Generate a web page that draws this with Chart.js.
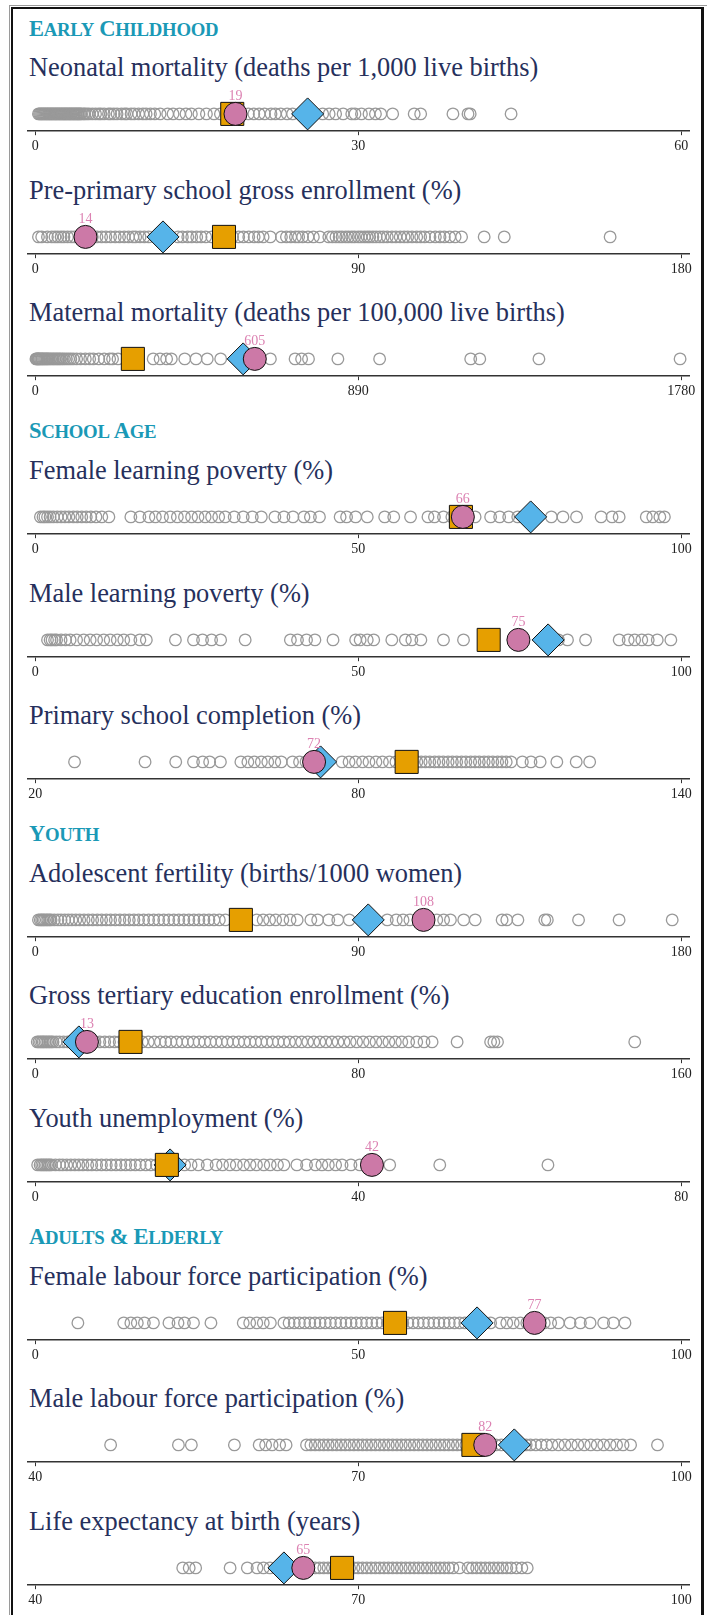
<!DOCTYPE html>
<html>
<head>
<meta charset="utf-8">
<script src="https://cdn.jsdelivr.net/npm/chart.js@4.4.1/dist/chart.umd.min.js"></script>
<style>
  body { margin: 0; background: #fff; width: 707px; height: 1615px; overflow: hidden; position: relative; font-family: "Liberation Serif", serif; }
  .outer { position: absolute; left: 9px; top: 5px; width: 700px; height: 1700px; border-top: 1px solid #9a9a9a; border-left: 1px solid #9a9a9a; }
  .frame { position: absolute; left: 11px; top: 7px; width: 693px; height: 1700px; border: 2.5px solid #111; border-right-width: 3px; box-sizing: border-box; }
  .section { position: absolute; left: 29px; font-weight: bold; font-size: 22.5px; line-height: 26px; color: #1a99b6; letter-spacing: -0.3px; white-space: nowrap; }
  .section .sm { font-size: 18.8px; }
  .title { position: absolute; left: 29px; font-size: 26.4px; line-height: 30px; color: #26305c; white-space: nowrap; }
  .plot { position: absolute; left: 0; }
</style>
</head>
<body>
<div class="outer"></div>
<div class="frame"></div>
<div id="charts"></div>
<script>
const sections = ['Early Childhood', 'School Age', 'Youth', 'Adults & Elderly'];
const titles = [
  'Neonatal mortality (deaths per 1,000 live births)',
  'Pre-primary school gross enrollment (%)',
  'Maternal mortality (deaths per 100,000 live births)',
  'Female learning poverty (%)',
  'Male learning poverty (%)',
  'Primary school completion (%)',
  'Adolescent fertility (births/1000 women)',
  'Gross tertiary education enrollment (%)',
  'Youth unemployment (%)',
  'Female labour force participation (%)',
  'Male labour force participation (%)',
  'Life expectancy at birth (years)'
];
const sectionOf = [0, 0, 0, 1, 1, 1, 2, 2, 2, 3, 3, 3];
const tickValues = [
  [0, 30, 60], [0, 90, 180], [0, 890, 1780], [0, 50, 100], [0, 50, 100], [20, 80, 140],
  [0, 90, 180], [0, 80, 160], [0, 40, 80], [0, 50, 100], [40, 70, 100], [40, 70, 100]
];

// highlighted country (pink), regional average (orange), income group (blue)
const countryValues = [18.6, 14.0, 605, 66.2, 74.8, 71.8, 108.2, 12.8, 41.7, 77.3, 81.8, 64.9];
const regionValues  = [18.3, 52.6, 269, 65.9, 70.2, 89.0, 57.3, 23.6, 16.3, 55.7, 80.7, 68.5];
const incomeValues  = [25.3, 35.6, 573, 76.7, 79.4, 73.0, 92.8, 10.8, 16.7, 68.4, 84.5, 63.1];

// other countries (grey rings)
const grayNeonatal = [0.3,0.4,0.5,0.6,0.7,0.8,0.9,1.0,1.1,1.2,1.3,1.4,1.5,1.6,1.7,1.8,1.9,2.0,2.1,2.2,2.3,2.4,2.5,2.6,2.7,2.8,2.9,3.0,3.1,3.2,3.3,3.4,3.5,3.6,3.7,3.8,3.9,4.0,4.1,4.2,4.3,4.5,4.6,4.8,5.0,5.3,5.6,5.9,6.1,6.4,6.8,7.0,7.3,7.6,8.0,8.3,8.5,8.9,9.2,9.6,10.0,10.3,10.7,11.1,11.6,12.3,12.8,13.4,14.0,14.5,15.2,15.9,16.6,17.2,19.8,20.3,20.8,21.3,21.9,22.3,22.8,23.4,23.9,26.7,27.3,27.9,28.6,29.4,29.7,30.3,31.0,31.6,32.1,33.2,35.2,35.8,38.8,40.2,40.4,44.2];
const grayPrePrimary = [0.9,1.8,3.4,4.6,5.5,6.3,7.2,8.0,9.0,10.0,10.9,13.5,15.9,17.2,18.5,19.7,21.0,22.3,23.5,24.8,26.0,27.2,28.0,29.2,30.4,31.6,34.0,37.5,39.8,41.0,42.5,43.6,45.0,46.2,47.5,49.2,51.0,55.0,56.7,58.0,59.5,61.0,62.2,63.5,65.5,68.6,70.0,71.2,72.5,73.4,74.5,76.0,77.5,79.3,81.8,82.8,83.8,84.7,85.5,86.5,87.3,88.2,89.0,90.0,90.8,91.7,92.5,93.2,94.1,95.0,96.0,97.0,98.1,99.4,100.5,101.7,102.8,103.8,105.0,106.3,107.4,108.5,110.0,111.5,112.8,114.0,115.5,117.0,118.8,125.1,130.7,160.2];
const grayMaternal = [2,4,6,8,10,12,15,18,20,23,26,29,32,35,38,42,46,50,54,58,62,66,70,75,80,86,92,98,105,114,125,138,150,160,175,190,205,213,228,255,280,325,344,362,375,412,443,474,511,648,716,734,753,834,949,1200,1225,1388,1777];
const grayFemaleLP = [0.8,1.2,1.5,1.9,2.3,2.8,3.4,4.0,4.6,5.2,5.9,6.5,7.2,7.9,8.6,9.4,10.3,11.4,14.8,16.2,17.6,18.6,19.7,20.9,22.0,23.1,24.2,25.2,26.3,27.3,28.4,29.4,30.8,32.2,33.6,35.0,37.1,38.5,39.9,41.6,42.6,44.0,47.2,48.2,49.6,51.4,54.1,55.5,58.1,60.8,61.8,63.2,64.5,68.1,70.5,71.9,73.3,74.7,79.9,81.7,83.8,87.6,89.3,90.4,94.6,95.6,96.7,97.4];
const grayMaleLP = [1.9,2.3,2.6,3.0,3.3,4.0,4.7,5.4,6.4,7.5,8.5,9.5,10.6,11.6,12.7,13.7,14.8,16.2,17.2,21.7,24.5,25.9,27.3,28.7,32.5,39.5,40.6,42.0,43.3,46.1,49.6,50.3,51.4,52.4,55.2,57.3,58.3,59.7,63.2,66.3,81.0,82.4,85.2,90.4,91.8,92.8,93.9,94.9,96.3,98.4];
const grayPrimary = [27.3,40.4,46.1,49.4,51.1,52.4,54.4,58.2,59.5,60.7,62.0,63.2,64.5,65.7,67.8,69.1,70.3,77.0,78.3,79.5,80.8,82.0,83.3,84.5,85.8,87.0,88.5,90.0,90.9,91.7,92.5,93.3,94.2,95.0,95.8,96.7,97.5,98.3,99.2,100.0,100.9,101.7,102.5,103.4,104.2,105.0,105.9,106.7,107.5,108.4,110.5,112.1,113.8,116.9,120.5,123.0];
const grayAdolescent = [0.9,1.4,1.8,2.2,2.6,3.1,3.5,4.0,4.4,5.3,6.3,7.2,8.2,9.2,10.2,11.3,12.4,13.6,14.8,16.0,17.3,18.5,19.8,21.0,22.3,23.6,24.9,26.2,27.5,28.8,30.2,31.6,33.0,34.4,35.8,37.2,38.6,40.0,41.4,42.8,44.2,45.6,47.0,48.4,49.8,51.3,53.0,61.7,63.5,65.3,67.0,69.0,71.0,73.0,76.8,78.7,81.8,84.3,87.5,98.1,100.6,102.5,104.4,111.9,113.8,115.7,119.4,122.6,130.1,131.4,134.5,142.0,142.7,151.4,162.7,177.5];
const grayTertiary = [0.5,0.9,1.3,1.7,2.0,2.4,2.8,3.2,3.6,4.0,4.4,5.2,6.0,7.0,8.0,9.0,10.0,11.2,12.4,13.6,14.8,16.0,17.2,18.4,19.6,20.8,22.0,23.5,25.0,26.5,28.0,29.5,31.0,32.3,33.6,35.0,36.4,37.8,39.2,40.6,42.0,43.4,44.8,46.2,47.6,49.0,50.4,51.8,53.2,54.6,56.0,57.4,58.8,60.2,61.6,63.0,64.5,66.0,67.5,69.0,70.5,72.0,73.5,75.0,76.5,78.0,79.6,81.2,82.8,84.4,86.0,87.6,89.2,90.8,92.5,94.5,96.3,98.3,104.5,112.8,113.6,114.5,148.5];
const grayYouthUnemp = [0.3,0.6,0.8,1.0,1.2,1.4,1.6,1.8,2.0,2.5,3.0,3.4,3.9,4.4,4.9,5.4,5.9,6.5,7.0,7.6,8.2,8.8,9.4,10.0,10.6,11.2,11.8,12.4,13.0,13.7,14.3,15.0,15.8,16.8,17.6,18.5,19.3,20.2,21.3,22.4,23.2,24.1,24.9,25.8,26.6,27.4,28.3,29.1,30.0,30.8,32.4,33.6,34.7,35.5,36.3,37.2,38.0,39.1,40.2,43.9,50.1,63.5];
const grayFemaleLF = [6.6,13.7,14.8,15.8,16.9,18.3,20.7,22.1,23.1,24.5,27.2,32.2,33.2,34.3,35.3,36.4,38.5,39.3,40.1,40.9,41.7,42.5,43.3,44.1,44.9,45.7,46.5,47.3,48.1,48.9,49.7,50.5,51.3,52.1,52.9,53.7,54.5,55.3,56.1,56.9,57.7,58.5,59.3,60.1,60.9,61.7,62.5,63.3,64.1,64.9,65.7,66.5,67.3,68.1,68.9,69.7,70.5,72.0,73.0,74.0,75.1,76.1,78.8,79.8,81.0,82.8,84.4,85.9,88.0,89.5,91.3];
const grayMaleLF = [47.0,53.3,54.5,58.5,60.8,61.4,62.0,62.7,63.3,65.2,65.6,66.0,66.4,66.8,67.2,67.6,68.0,68.4,68.8,69.2,69.6,70.0,70.4,70.8,71.2,71.6,72.0,72.4,72.8,73.2,73.6,74.0,74.4,74.8,75.2,75.6,76.0,76.4,76.8,77.2,77.6,78.0,78.4,78.8,79.2,79.6,80.0,82.8,83.3,84.0,85.6,86.0,86.5,87.0,87.5,88.0,88.6,89.2,89.8,90.4,91.0,91.6,92.2,92.8,93.4,94.0,94.6,95.3,97.8];
const grayLifeExp = [53.7,54.3,54.9,58.1,59.7,60.6,61.2,61.8,62.4,63.1,63.9,66.0,66.4,66.8,67.2,67.6,68.0,68.4,68.8,69.2,69.6,70.0,70.4,70.8,71.2,71.6,72.0,72.4,72.8,73.2,73.6,74.0,74.4,74.8,75.2,75.6,76.0,76.4,76.8,77.2,77.6,78.0,78.4,78.8,79.4,80.2,80.6,81.0,81.4,81.8,82.2,82.6,83.0,83.4,83.8,84.2,84.7,85.2,85.7];

const otherCountries = [grayNeonatal, grayPrePrimary, grayMaternal, grayFemaleLP, grayMaleLP, grayPrimary,
  grayAdolescent, grayTertiary, grayYouthUnemp, grayFemaleLF, grayMaleLF, grayLifeExp];

// pink number above the country marker
const countryLabel = {
  id: 'countryLabel',
  afterDatasetsDraw(chart) {
    const pt = chart.getDatasetMeta(0).data[0];
    const ctx = chart.ctx;
    ctx.save();
    ctx.font = '14px "Liberation Serif"';
    ctx.fillStyle = '#dc82b2';
    ctx.textAlign = 'center';
    ctx.textBaseline = 'middle';
    ctx.fillText(String(Math.round(chart.data.datasets[0].data[0].x)), pt.x, pt.y - 18);
    ctx.restore();
  }
};

// small caps by hand: first letter of each word full size, rest smaller
function smallCaps(el, text) {
  text.split(' ').forEach((word, k) => {
    if (k > 0) el.appendChild(document.createTextNode(' '));
    el.appendChild(document.createTextNode(word[0].toUpperCase()));
    if (word.length > 1) {
      const s = document.createElement('span');
      s.className = 'sm';
      s.textContent = word.slice(1).toUpperCase();
      el.appendChild(s);
    }
  });
}

const root = document.getElementById('charts');
const CANVAS_H = 80;
const AREA_BOTTOM = 53.2;   // canvas height minus x-axis box
let axisY = 131.5;

titles.forEach((title, i) => {
  if (i > 0) axisY += 122.3;
  if (i > 0 && sectionOf[i] !== sectionOf[i - 1]) axisY += 36;

  if (i === 0 || sectionOf[i] !== sectionOf[i - 1]) {
    const h = document.createElement('div');
    h.className = 'section';
    h.style.top = (axisY - 116) + 'px';
    smallCaps(h, sections[sectionOf[i]]);
    root.appendChild(h);
  }

  const t = document.createElement('div');
  t.className = 'title';
  t.style.top = (axisY - 79.2) + 'px';
  t.textContent = title;
  root.appendChild(t);

  const wrap = document.createElement('div');
  wrap.className = 'plot';
  wrap.style.top = (axisY - AREA_BOTTOM) + 'px';
  const cv = document.createElement('canvas');
  cv.width = 707;
  cv.height = CANVAS_H;
  wrap.appendChild(cv);
  root.appendChild(wrap);

  const ticks = tickValues[i];
  const lo = ticks[0], hi = ticks[ticks.length - 1], span = hi - lo;

  new Chart(cv, {
    type: 'scatter',
    data: {
      datasets: [
        { data: [{ x: countryValues[i], y: 0 }], pointStyle: 'circle', pointRadius: 11.5,
          backgroundColor: '#CC79A7', borderColor: '#111', borderWidth: 1, clip: false },
        { data: [{ x: regionValues[i], y: 0 }], pointStyle: 'rect', pointRadius: 16.3,
          backgroundColor: '#E69F00', borderColor: '#111', borderWidth: 1, clip: false },
        { data: [{ x: incomeValues[i], y: 0 }], pointStyle: 'rectRot', pointRadius: 16,
          backgroundColor: '#56B4E9', borderColor: '#111', borderWidth: 1, clip: false },
        { data: otherCountries[i].map(v => ({ x: v, y: 0 })), pointStyle: 'circle', pointRadius: 5.8,
          backgroundColor: 'rgba(0,0,0,0)', borderColor: '#999', borderWidth: 1.3, clip: false }
      ]
    },
    options: {
      responsive: false,
      animation: false,
      events: [],
      layout: { padding: { left: 27.5, right: 14, top: 18.6, bottom: 0 } },
      plugins: { legend: { display: false }, tooltip: { enabled: false } },
      scales: {
        x: {
          type: 'linear',
          min: lo - 0.012 * span,
          max: hi + 0.0132 * span,
          afterBuildTicks: s => { s.ticks = ticks.map(v => ({ value: v })); },
          grid: { drawOnChartArea: false, drawTicks: true, tickLength: 4, color: '#333', lineWidth: 1 },
          border: { display: true, color: '#333', width: 1.5 },
          ticks: {
            color: '#222', padding: 3, maxRotation: 0, autoSkip: false,
            font: { family: 'Liberation Serif', size: 14 },
            callback: v => String(v)
          }
        },
        y: { display: false, min: -1, max: 1 }
      }
    },
    plugins: [countryLabel]
  });
});
</script>
</body>
</html>
